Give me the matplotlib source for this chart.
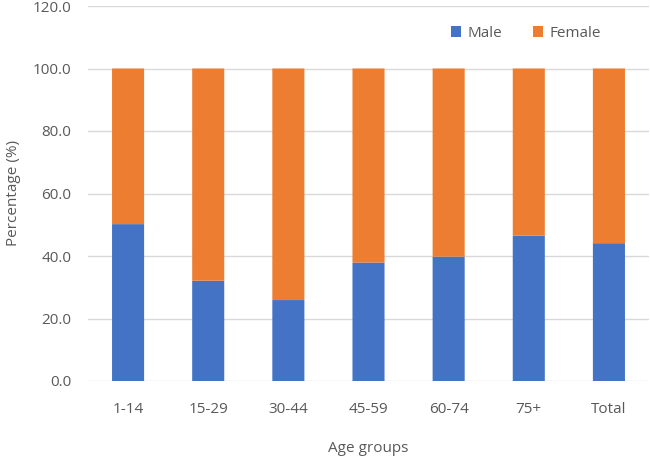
import numpy as np
import matplotlib.pyplot as plt

# Data
age_groups = ["1-14", "15-29", "30-44", "45-59", "60-74", "75+", "Total"]
male = [50.2, 32.1, 25.9, 37.9, 39.8, 46.5, 44.1]
female = [49.8, 67.9, 74.1, 62.1, 60.2, 53.5, 55.9]

blue = "#4472C4"
orange = "#ED7D31"
text_grey = "#595959"
grid_grey = "#D9D9D9"

plt.rcParams['font.family'] = ['Open Sans', 'DejaVu Sans']

fig = plt.figure(figsize=(6.5, 4.59), dpi=100)
ax = fig.add_axes([88 / 650, 1 - 381 / 459, 561 / 650, 375 / 459])

x = np.arange(len(age_groups))
ax.bar(x, male, width=0.4, color=blue, label="Male", zorder=3, snap=False)
ax.bar(x, female, width=0.4, bottom=male, color=orange, label="Female", zorder=3, snap=False)

ax.set_xlim(-0.5, len(age_groups) - 0.5)
ax.set_ylim(0, 120)
ax.set_yticks(np.arange(0, 121, 20))
ax.set_yticklabels([f"{v:.1f}" for v in np.arange(0, 121, 20)])
ax.set_xticks(x)
ax.set_xticklabels(age_groups)

ax.grid(axis='y', color=grid_grey, linewidth=1, zorder=0)
for spine in ax.spines.values():
    spine.set_visible(False)
ax.tick_params(axis='both', length=0, labelsize=11, labelcolor=text_grey)
ax.tick_params(axis='y', pad=12)
ax.tick_params(axis='x', pad=15)

ax.set_ylabel("Percentage (%)", fontsize=11, color=text_grey)
ax.yaxis.set_label_coords(-0.12, 0.5)
ax.set_xlabel("Age groups", fontsize=11, color=text_grey)
ax.xaxis.set_label_coords(0.5, -0.16)

ax.legend(loc='center', bbox_to_anchor=(0.809, 0.928), bbox_transform=fig.transFigure,
          ncol=2, frameon=False, fontsize=11, labelcolor=text_grey,
          handlelength=0.7, handleheight=0.7, handletextpad=0.4, columnspacing=2.0)

fig.savefig("out.png", dpi=100)
